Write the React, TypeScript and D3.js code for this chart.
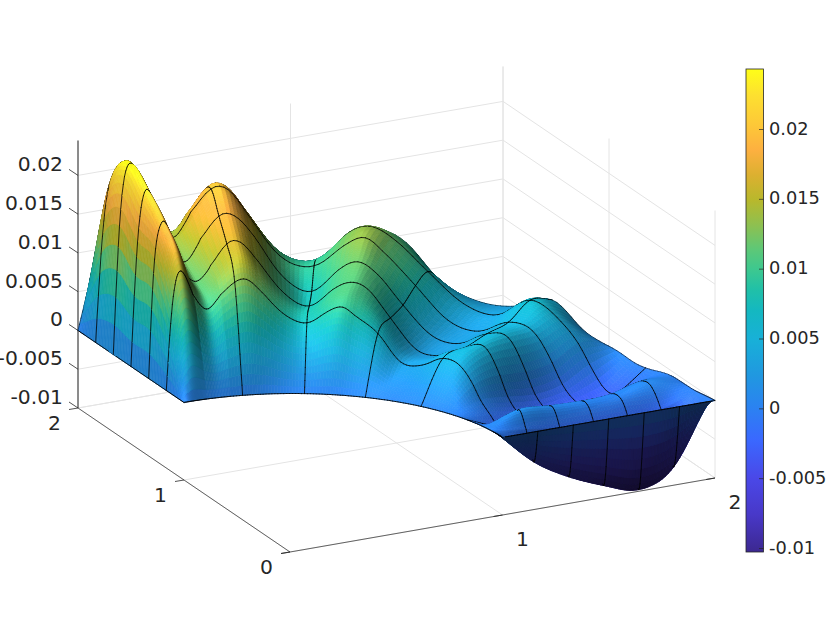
import React, { useMemo } from "react";
import * as d3 from "d3";

const thetaDeg = [90, 89, 88, 87, 86, 84, 81, 78, 75, 72.5, 70, 65, 60, 55, 52.5, 50, 45, 40, 35, 30, 25, 22, 20, 17, 15, 10, 8, 5, 3, 1.5, 0];
const radii = [1, 7 / 6, 8 / 6, 9 / 6, 10 / 6, 11 / 6, 2];
const zR1 = thetaDeg.map(() => 0);
const zR2 = [0, .0090, .0139, .0155, .0150, .0122, .0099, .0116, .0132, .0135, .0121, .0088, .0075, .0094, .0099, .0088, .0068, .0033, .0034, .0049, .0042, .0023, .0006, -.0009, -.0020, -.0005, .0015, -.0008, -.0033, -.0044, 0];
const zR3 = [0, .0148, .0190, .0202, .0188, .0144, .0116, .0133, .0163, .0163, .0143, .0097, .0077, .0104, .0111, .0108, .0069, .0032, .0030, .0046, .0053, .0023, -.0003, -.0020, -.0025, -.0002, .0009, -.0015, -.0054, -.0072, 0];
const zR4 = [0, .0148, .0215, .0227, .0208, .0175, .0124, .0151, .0182, .0180, .0160, .0101, .0078, .0113, .0121, .0111, .0069, .0034, .0030, .0050, .0049, .0013, -.0013, -.0028, -.0030, -.0005, .0005, -.0017, -.0065, -.0093, 0];
const zR5 = [0, .0178, .0239, .0244, .0230, .0198, .0140, .0170, .0201, .0198, .0168, .0108, .0095, .0127, .0136, .0119, .0078, .0038, .0030, .0050, .0043, .0012, -.0013, -.0029, -.0032, -.0003, .0003, -.0017, -.0069, -.0109, 0];
const zR6 = [0, .0146, .0207, .0218, .0230, .0213, .0135, .0135, .0180, .0186, .0158, .0096, .0085, .0128, .0132, .0120, .0080, .0044, .0036, .0066, .0047, .0025, .0002, -.0027, -.0026, .0005, .0008, -.0020, -.0056, -.0088, 0];
const zR7 = [0, .0038, .0075, .0132, .0178, .0211, .0155, .0095, .0135, .0168, .0145, .0075, .0065, .0108, .0110, .0102, .0050, .0030, .0032, .0051, .0018, .0010, .0007, -.0002, -.0003, .0001, -.0001, -.0003, -.0002, -.0001, 0];
const zRows = [zR1, zR2, zR3, zR4, zR5, zR6, zR7];

const meshThetas = [75, 60, 45, 30, 15];
const zTicks = [-0.01, -0.005, 0, 0.005, 0.01, 0.015, 0.02];
const zTickLabels = ["-0.01", "-0.005", "0", "0.005", "0.01", "0.015", "0.02"];
const xyTicks = [0, 1, 2];
const parulaY = [69, 95, 125, 150, 175, 200, 225, 250, 270, 290, 310, 340, 375, 405, 440, 478, 515, 552];
const parulaHex = ["#fefe18", "#fde030", "#fdc838", "#fdb040", "#dcb030", "#b8b82c", "#8ec050", "#5cc878", "#3cc890", "#20c0a8", "#14b8c0", "#18b0d8", "#2098e0", "#2a84f0", "#3a68ff", "#4a48e8", "#4838c8", "#3c2890"];

const zMin = -0.01;
const zMax = 0.0245;

const origin = { x: 290, y: 552 };
const sxX = d3.scaleLinear().domain([0, 2]).range([0, 425]);
const sxY = d3.scaleLinear().domain([0, 2]).range([0, -212]);
const syX = d3.scaleLinear().domain([0, 2]).range([0, -74]);
const syY = d3.scaleLinear().domain([0, 2]).range([0, -144]);
const syZ = d3.scaleLinear().domain([zMin, zMax]).range([0, -267.5]);
const project = (x: number, y: number, z: number): [number, number] => [
  origin.x + sxX(x) + sxY(y),
  origin.y + syX(x) + syY(y) + syZ(z),
];

const cbScale = d3.scaleLinear().domain([-0.01, 0.02]).range([548.5, 129.5]);
const colorByY = d3.scaleLinear<string>().domain(parulaY).range(parulaHex).interpolate(d3.interpolateRgb).clamp(true);
const colorScale = (z: number) => colorByY(cbScale(z));

const BOX = 238;
const ZS = 8290;
const norm = (v: number[]) => {
  const l = Math.hypot(v[0], v[1], v[2]) || 1;
  return [v[0] / l, v[1] / l, v[2] / l];
};
const dot = (a: number[], b: number[]) => a[0] * b[0] + a[1] * b[1] + a[2] * b[2];
const viewDir = norm([-0.41, -0.844, 0.342]);
const lightDir = norm([-0.58, -0.15, 0.8]);
const halfDir = norm([lightDir[0] + viewDir[0], lightDir[1] + viewDir[1], lightDir[2] + viewDir[2]]);

function hermite(xs: number[], ys: number[], x: number) {
  let i = 0;
  while (i < xs.length - 2 && x > xs[i + 1]) i++;
  const h = xs[i + 1] - xs[i];
  const slope = (k: number) => {
    if (k <= 0) return (ys[1] - ys[0]) / (xs[1] - xs[0]);
    if (k >= xs.length - 1) return (ys[k] - ys[k - 1]) / (xs[k] - xs[k - 1]);
    const a = (ys[k] - ys[k - 1]) / (xs[k] - xs[k - 1]);
    const b = (ys[k + 1] - ys[k]) / (xs[k + 1] - xs[k]);
    const ha = xs[k] - xs[k - 1];
    const hb = xs[k + 1] - xs[k];
    return (a * hb + b * ha) / (ha + hb);
  };
  const t = (x - xs[i]) / h;
  const t2 = t * t;
  const t3 = t2 * t;
  return (2 * t3 - 3 * t2 + 1) * ys[i] + (t3 - 2 * t2 + t) * h * slope(i) + (-2 * t3 + 3 * t2) * ys[i + 1] + (t3 - t2) * h * slope(i + 1);
}

function blur(g: number[][], ri: (i: number) => number, rj: number) {
  const n = g.length, m = g[0].length;
  const a = g.map((row) => row.slice());
  const pass = (src: number[][]) => {
    const out = src.map((row) => row.slice());
    for (let i = 1; i < n - 1; i++) {
      for (let j = 1; j < m; j++) {
        let s = 0, c = 0;
        const r = Math.min(ri(i), i, n - 1 - i);
        for (let k = -r; k <= r; k++) { s += src[i + k][j]; c++; }
        out[i][j] = s / c;
      }
    }
    const o2 = out.map((row) => row.slice());
    for (let i = 1; i < n - 1; i++) {
      for (let j = 1; j < m; j++) {
        let s = 0, c = 0;
        const r = Math.min(rj, j, m - 1 - j);
        for (let k = -r; k <= r; k++) { s += out[i][j + k]; c++; }
        o2[i][j] = s / c;
      }
    }
    return o2;
  };
  return pass(pass(a));
}

type Item = { d: number; kind: 0 | 1; path: string; fill: string; w: number };

function buildSurface(): Item[] {
  const asc = thetaDeg.slice().reverse();
  const rowsAsc = zRows.map((r) => r.slice().reverse());
  const th: number[] = [];
  for (let i = 0; i < asc.length - 1; i++) {
    const gap = asc[i + 1] - asc[i];
    const step = asc[i] < 5 || asc[i] >= 84 ? 0.2 : asc[i] < 10 || asc[i] >= 78 ? 0.4 : 0.8;
    const n = Math.max(2, Math.ceil(gap / step));
    for (let k = 0; k < n; k++) th.push(asc[i] + (gap * k) / n);
  }
  th.push(90);
  const rs: number[] = [];
  for (let i = 0; i < radii.length - 1; i++) for (let k = 0; k < 12; k++) rs.push(radii[i] + ((radii[i + 1] - radii[i]) * k) / 12);
  rs.push(2);

  const fine = (i: number) => (th[i] < 5 || th[i] >= 84 ? 2 : 1);
  const fineN = (i: number) => (th[i] < 5 || th[i] >= 84 ? 4 : 2);
  const raw = th.map((t) => {
    const nodeZ = rowsAsc.map((row) => hermite(asc, row, t));
    return rs.map((r) => hermite(radii, nodeZ, r));
  });
  const zg = blur(raw, fine, 2);
  const zn = blur(raw, fineN, 4);

  const P = th.map((t, i) =>
    rs.map((r, j) => {
      const a = (t * Math.PI) / 180;
      const x = r * Math.cos(a);
      const y = r * Math.sin(a);
      const z = zg[i][j];
      const [sx, sy] = project(x, y, z);
      const d = x * BOX * viewDir[0] + y * BOX * viewDir[1] + (z - zMin) * ZS * viewDir[2];
      return { x, y, z, zn: zn[i][j], sx, sy, d };
    })
  );

  const items: Item[] = [];
  const f = (v: number) => v.toFixed(1);
  for (let i = 0; i < th.length - 1; i++) {
    for (let j = 0; j < rs.length - 1; j++) {
      const a = P[i][j], b = P[i + 1][j], c = P[i + 1][j + 1], e = P[i][j + 1];
      const u = [(c.x - a.x) * BOX, (c.y - a.y) * BOX, (c.zn - a.zn) * ZS];
      const v = [(e.x - b.x) * BOX, (e.y - b.y) * BOX, (e.zn - b.zn) * ZS];
      let n = norm([u[1] * v[2] - u[2] * v[1], u[2] * v[0] - u[0] * v[2], u[0] * v[1] - u[1] * v[0]]);
      const u2 = [(c.x - a.x) * BOX, (c.y - a.y) * BOX, (c.z - a.z) * ZS];
      const v2 = [(e.x - b.x) * BOX, (e.y - b.y) * BOX, (e.z - b.z) * ZS];
      const n2 = [u2[1] * v2[2] - u2[2] * v2[1], u2[2] * v2[0] - u2[0] * v2[2], u2[0] * v2[1] - u2[1] * v2[0]];
      if (dot(n, n2) < 0) n = [-n[0], -n[1], -n[2]];
      if (dot(n2, viewDir) < 0) n = [-n[0], -n[1], -n[2]];
      const diff = Math.max(0, dot(n, lightDir));
      const spec = Math.pow(Math.max(0, dot(n, halfDir)), 16);
      const zAvg = (a.z + b.z + c.z + e.z) / 4;
      const base = d3.rgb(colorScale(zAvg));
      const k = Math.min(1.1, 0.3 + 0.92 * diff);
      const s = 10 * spec;
      const fill = d3.rgb(base.r * k + s, base.g * k + s, base.b * k + s).formatHex();
      items.push({
        d: (a.d + b.d + c.d + e.d) / 4,
        kind: 0,
        path: `M${f(a.sx)} ${f(a.sy)}L${f(b.sx)} ${f(b.sy)}L${f(c.sx)} ${f(c.sy)}L${f(e.sx)} ${f(e.sy)}Z`,
        fill,
        w: 0.7,
      });
    }
  }
  const seg = (p: any, q: any, w: number) =>
    items.push({ d: (p.d + q.d) / 2 + 5, kind: 1, path: `M${f(p.sx)} ${f(p.sy)}L${f(q.sx)} ${f(q.sy)}`, fill: "#000", w });
  meshThetas.forEach((mt) => {
    const i = th.findIndex((t) => Math.abs(t - mt) < 1e-6);
    for (let j = 0; j < rs.length - 1; j++) seg(P[i][j], P[i][j + 1], 0.8);
  });
  [0, th.length - 1].forEach((i) => {
    for (let j = 0; j < rs.length - 1; j++) seg(P[i][j], P[i][j + 1], 0.9);
  });
  rs.forEach((r, j) => {
    if (j % 12 !== 0) return;
    for (let i = 0; i < th.length - 1; i++) seg(P[i][j], P[i + 1][j], j === rs.length - 1 ? 0.5 : 0.8);
  });
  items.sort((p, q) => p.d - q.d);
  return items;
}

const GRID = "#e4e4e4";
const AXIS = "#262626";
const textStyle = { fontFamily: "'DejaVu Sans', sans-serif", fill: "#262626" };

export default function App() {
  const items = useMemo(buildSurface, []);
  const seg3 = (a: number[], b: number[], stroke: string, w = 1, key?: string) => {
    const p = project(a[0], a[1], a[2]);
    const q = project(b[0], b[1], b[2]);
    return <line key={key} x1={p[0]} y1={p[1]} x2={q[0]} y2={q[1]} stroke={stroke} strokeWidth={w} />;
  };
  const gridLines: React.ReactNode[] = [];
  zTicks.forEach((z, i) => {
    gridLines.push(seg3([0, 2, z], [2, 2, z], GRID, 1, `gx${i}`));
    gridLines.push(seg3([2, 2, z], [2, 0, z], GRID, 1, `gy${i}`));
  });
  xyTicks.forEach((v, i) => {
    gridLines.push(seg3([v, 2, zMin], [v, 2, zMax], GRID, 1, `vx${i}`));
    gridLines.push(seg3([2, v, zMin], [2, v, zMax], GRID, 1, `vy${i}`));
    gridLines.push(seg3([v, 0, zMin], [v, 2, zMin], GRID, 1, `fx${i}`));
    gridLines.push(seg3([0, v, zMin], [2, v, zMin], GRID, 1, `fy${i}`));
  });
  return (
    <svg width={830} height={642} viewBox="0 0 830 642" style={{ position: "absolute", left: 0, top: 0, background: "#fff" }}>
      <g>{gridLines}</g>
      <g>
        {seg3([0, 0, zMin], [2, 0, zMin], "#404040", 0.8, "ax")}
        {seg3([0, 0, zMin], [0, 2, zMin], "#404040", 0.8, "ay")}
        {seg3([0, 2, zMin], [0, 2, zMax], AXIS, 1, "az")}
        {xyTicks.map((v) => {
          const p = project(v, 0, zMin);
          return <line key={`tx${v}`} x1={p[0]} y1={p[1]} x2={p[0] - 9} y2={p[1] + 1.5} stroke={AXIS} strokeWidth={0.8} />;
        })}
        {xyTicks.map((v) => {
          const p = project(0, v, zMin);
          return <line key={`ty${v}`} x1={p[0]} y1={p[1]} x2={p[0] - 9} y2={p[1] + 1.5} stroke={AXIS} strokeWidth={0.8} />;
        })}
        {zTicks.map((z) => {
          const p = project(0, 2, z);
          return <line key={`tz${z}`} x1={p[0]} y1={p[1]} x2={p[0] - 9} y2={p[1] - 6} stroke={AXIS} strokeWidth={0.8} />;
        })}
      </g>
      <g style={textStyle} fontSize={20.3}>
        {zTicks.map((z, i) => {
          const p = project(0, 2, z);
          return (
            <text key={`lz${z}`} x={63} y={p[1] - 9.5} dominantBaseline="middle" textAnchor="end">
              {zTickLabels[i]}
            </text>
          );
        })}
        {xyTicks.filter((v) => v > 0).map((v) => {
          const p = project(v, 0, zMin);
          return (
            <text key={`lx${v}`} x={p[0] + 20} y={p[1] + 25.5} dominantBaseline="middle" textAnchor="middle">
              {v}
            </text>
          );
        })}
        {xyTicks.map((v) => {
          const p = project(0, v, zMin);
          return (
            <text key={`ly${v}`} x={p[0] - 23.5} y={p[1] + 16.5} dominantBaseline="middle" textAnchor="middle">
              {v}
            </text>
          );
        })}
      </g>
      <g>
        {items.map((it, i) =>
          it.kind === 0 ? (
            <path key={i} d={it.path} fill={it.fill} stroke={it.fill} strokeWidth={it.w} />
          ) : (
            <path key={i} d={it.path} fill="none" stroke={it.fill} strokeWidth={it.w} strokeLinecap="round" />
          )
        )}
      </g>
      <defs>
        <linearGradient id="cb" x1="0" y1="69" x2="0" y2="552" gradientUnits="userSpaceOnUse">
          {parulaY.map((y, i) => (
            <stop key={y} offset={(y - 69) / 483} stopColor={parulaHex[i]} />
          ))}
        </linearGradient>
      </defs>
      <rect x={746} y={69} width={17.5} height={483} fill="url(#cb)" stroke={AXIS} strokeWidth={0.8} />
      <g style={textStyle} fontSize={17.8}>
        {zTicks.map((z, i) => (
          <g key={`cb${z}`}>
            <line x1={759} x2={763.5} y1={cbScale(z)} y2={cbScale(z)} stroke={AXIS} strokeWidth={0.7} />
            <text x={769} y={cbScale(z)} dominantBaseline="middle">
              {zTickLabels[i]}
            </text>
          </g>
        ))}
      </g>
    </svg>
  );
}
